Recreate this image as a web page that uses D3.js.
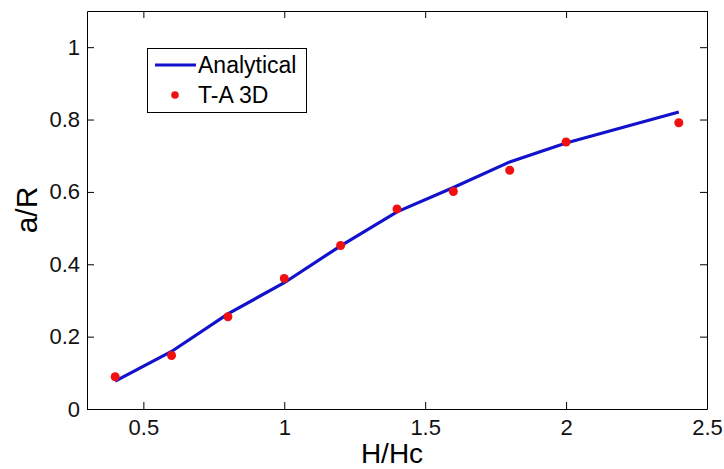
<!DOCTYPE html>
<html>
<head>
<meta charset="utf-8">
<script src="https://cdn.jsdelivr.net/npm/d3@7"></script>
<style>
  body { margin: 0; background: #fff; }
  text { font-family: "Liberation Sans", Arial, sans-serif; }
</style>
</head>
<body>
<div id="container"></div>
<script>
// data
const hRatio = [0.4, 0.6, 0.8, 1.0, 1.2, 1.4, 1.6, 1.8, 2.0, 2.4];
const analytical = [0.077, 0.159, 0.263, 0.349, 0.451, 0.545, 0.612, 0.683, 0.735, 0.821];
const ta3d = [0.089, 0.148, 0.255, 0.361, 0.452, 0.553, 0.601, 0.660, 0.738, 0.791];
const xTicks = [0.5, 1, 1.5, 2, 2.5];
const yTicks = [0, 0.2, 0.4, 0.6, 0.8, 1];
const legendNames = ["Analytical", "T-A 3D"];

const width = 724;
const height = 469;
const margin = {top: 11, right: 17, bottom: 60, left: 87};

const svg = d3.create("svg")
    .attr("width", width)
    .attr("height", height);

const x = d3.scaleLinear().domain([0.3, 2.5]).range([margin.left, width - margin.right]);
const y = d3.scaleLinear().domain([0, 1.1]).range([height - margin.bottom, margin.top]);

const blue = "#1212cc";
const red = "#f01010";

// axes (MATLAB style: box with inward ticks on all sides)
const tick = 7;
svg.append("g")
  .attr("transform", `translate(0,${height - margin.bottom})`)
  .call(d3.axisBottom(x).tickValues(xTicks).tickFormat(d => String(d)).tickSizeInner(-tick).tickSizeOuter(0).tickPadding(10))
  .call(g => g.selectAll("text").attr("font-size", 22).attr("fill", "#111"));

svg.append("g")
  .attr("transform", `translate(${margin.left},0)`)
  .call(d3.axisLeft(y).tickValues(yTicks).tickFormat(d => String(d)).tickSizeInner(-tick).tickSizeOuter(0).tickPadding(7))
  .call(g => g.selectAll("text").attr("font-size", 22).attr("fill", "#111"));

svg.append("g")
  .attr("transform", `translate(0,${margin.top})`)
  .call(d3.axisTop(x).tickValues(xTicks).tickFormat("").tickSizeInner(-tick).tickSizeOuter(0));

svg.append("g")
  .attr("transform", `translate(${width - margin.right},0)`)
  .call(d3.axisRight(y).tickValues(yTicks).tickFormat("").tickSizeInner(-tick).tickSizeOuter(0));

svg.selectAll(".domain").attr("stroke", "#000");

// axis labels
svg.append("text")
  .attr("x", 392)
  .attr("y", 463)
  .attr("text-anchor", "middle")
  .attr("font-size", 28)
  .text("H/Hc");

svg.append("text")
  .attr("transform", `translate(37,${(margin.top + height - margin.bottom) / 2}) rotate(-90)`)
  .attr("text-anchor", "middle")
  .attr("font-size", 30)
  .text("a/R");

// analytical line
const line = d3.line()
  .x((d, i) => x(hRatio[i]))
  .y(d => y(d));

svg.append("path")
  .datum(analytical)
  .attr("d", line)
  .attr("fill", "none")
  .attr("stroke", blue)
  .attr("stroke-width", 3.2);

// T-A 3D markers
svg.selectAll(".pt")
  .data(ta3d)
  .enter().append("circle")
  .attr("class", "pt")
  .attr("cx", (d, i) => x(hRatio[i]))
  .attr("cy", d => y(d))
  .attr("r", 4.5)
  .attr("fill", red);

// legend
const legend = svg.append("g");
legend.append("rect")
  .attr("x", 147.5)
  .attr("y", 48.5)
  .attr("width", 159)
  .attr("height", 64)
  .attr("fill", "#fff")
  .attr("stroke", "#000");

legend.append("line")
  .attr("x1", 155).attr("x2", 196)
  .attr("y1", 65).attr("y2", 65)
  .attr("stroke", blue)
  .attr("stroke-width", 3.2);

legend.append("circle")
  .attr("cx", 175).attr("cy", 95)
  .attr("r", 3.8)
  .attr("fill", red);

legend.selectAll(".lt")
  .data(legendNames)
  .enter().append("text")
  .attr("class", "lt")
  .attr("x", 198)
  .attr("y", (d, i) => 73 + i * 30)
  .attr("font-size", 23)
  .text(d => d);

container.append(svg.node());
</script>
</body>
</html>
